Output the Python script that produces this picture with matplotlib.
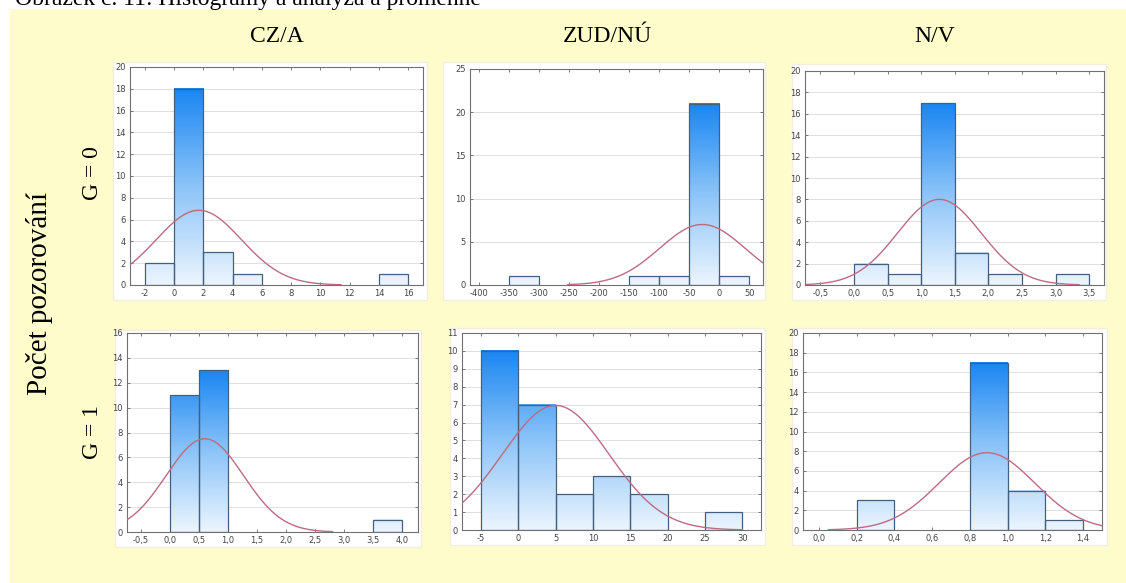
import matplotlib
matplotlib.use('Agg')
import matplotlib.pyplot as plt
from matplotlib.colors import LinearSegmentedColormap
from matplotlib.patches import Rectangle
from matplotlib.ticker import FuncFormatter
import numpy as np

plt.rcParams['axes.unicode_minus'] = False

######################################################
# Data
######################################################

col_titles = ['CZ/A', 'ZUD/NÚ', 'N/V']
row_titles = ['G = 0', 'G = 1']
y_title = 'Počet pozorování'
caption = 'Obrázek č. 11: Histogramy a analýza a proměnné'

# bin left edges, bin width and counts for each panel
p1_edges = [-2, 0, 2, 4, 6, 8, 10, 12, 14]
p1_counts = [2, 18, 3, 1, 0, 0, 0, 0, 1]
p2_edges = [-350, -300, -250, -200, -150, -100, -50, 0]
p2_counts = [1, 0, 0, 0, 1, 1, 21, 1]
p3_edges = [0.0, 0.5, 1.0, 1.5, 2.0, 2.5, 3.0]
p3_counts = [2, 1, 17, 3, 1, 0, 1]
p4_edges = [0.0, 0.5, 1.0, 1.5, 2.0, 2.5, 3.0, 3.5]
p4_counts = [11, 13, 0, 0, 0, 0, 0, 1]
p5_edges = [-5, 0, 5, 10, 15, 20, 25]
p5_counts = [10, 7, 2, 3, 2, 0, 1]
p6_edges = [0.2, 0.4, 0.6, 0.8, 1.0, 1.2]
p6_counts = [3, 0, 0, 17, 4, 1]

bin_widths = [2, 50, 0.5, 0.5, 5, 0.2]
# fitted normal curve: mean, sd, drawn range
curve_mean = [1.7, -28, 1.27, 0.6, 5.0, 0.89]
curve_sd = [2.91, 71.2, 0.623, 0.665, 7.17, 0.254]
curve_range = [(-3, 11.4), (-252, 73), (-0.73, 3.35), (-0.74, 2.8), (-7.5, 30), (0.05, 1.5)]

x_limits = [(-3, 17), (-415, 73), (-0.73, 3.72), (-0.74, 4.27), (-7.54, 32.5), (-0.085, 1.5)]
x_ticks = [np.arange(-2, 17, 2), np.arange(-400, 51, 50), np.arange(-0.5, 3.51, 0.5),
           np.arange(-0.5, 4.01, 0.5), np.arange(-5, 31, 5), np.arange(0.0, 1.41, 0.2)]
y_tops = [20, 25, 20, 16, 11, 20]
y_steps = [2, 5, 2, 2, 1, 2]
comma_fmt = [False, False, True, True, False, True]

edges_all = [p1_edges, p2_edges, p3_edges, p4_edges, p5_edges, p6_edges]
counts_all = [p1_counts, p2_counts, p3_counts, p4_counts, p5_counts, p6_counts]

######################################################
# Layout (pixels)
######################################################

W, H = 1126, 583
frames = [(130, 67, 423, 285), (470, 69, 763, 285), (805, 71, 1104, 285),
          (127, 333, 418, 532), (462, 333, 761, 530), (803, 333, 1102, 530)]
white_boxes = [(113, 62, 427, 300), (443, 62, 765, 300), (792, 64, 1106, 300),
               (115, 330, 421, 547), (450, 328, 765, 545), (792, 328, 1107, 545)]

YELLOW = '#FFFCCB'
BAR_CMAP = LinearSegmentedColormap.from_list('bars', ['#ECF5FE', '#8CC4F8', '#1A86F2'])

fig = plt.figure(figsize=(W / 100, H / 100), dpi=100)
fig.patch.set_facecolor('white')


def px_rect(x0, y0, x1, y1):
    return [x0 / W, 1 - y1 / H, (x1 - x0) / W, (y1 - y0) / H]


# yellow background and white panel cards (behind the axes)
fig.patches.append(Rectangle((10 / W, 0), 1 - 10 / W, 1 - 9 / H, transform=fig.transFigure,
                             facecolor=YELLOW, edgecolor='none', zorder=-3))
for (x0, y0, x1, y1) in white_boxes:
    fig.patches.append(Rectangle((x0 / W, 1 - y1 / H), (x1 - x0) / W, (y1 - y0) / H,
                                 transform=fig.transFigure, facecolor='white',
                                 edgecolor='#F2EFE0', lw=1.0, zorder=-2))


def comma(v, pos):
    return ('%.1f' % v).replace('.', ',')


for i in range(6):
    ax = fig.add_axes(px_rect(*frames[i]))
    ax.set_zorder(1)
    ax.set_facecolor('white')
    edges, counts, w = edges_all[i], counts_all[i], bin_widths[i]
    top = max(counts)
    for e, c in zip(edges, counts):
        if c == 0:
            continue
        grad = np.linspace(0, c, 200).reshape(-1, 1)
        ax.imshow(grad, extent=[e, e + w, 0, c], origin='lower', aspect='auto',
                  cmap=BAR_CMAP, vmin=0, vmax=top, zorder=2, interpolation='bilinear')
        ax.add_patch(Rectangle((e, 0), w, c, facecolor='none', edgecolor='#44607F',
                               lw=0.9, zorder=3))
    # normal curve
    n = sum(counts)
    xs = np.linspace(curve_range[i][0], curve_range[i][1], 300)
    ys = n * w / (curve_sd[i] * np.sqrt(2 * np.pi)) * np.exp(-0.5 * ((xs - curve_mean[i]) / curve_sd[i]) ** 2)
    ax.plot(xs, ys, color='#BF6A84', lw=1.0, zorder=4)

    ax.set_xlim(*x_limits[i])
    ax.set_ylim(0, y_tops[i])
    ax.set_xticks(x_ticks[i])
    ax.set_yticks(np.arange(0, y_tops[i] + 0.01, y_steps[i]))
    if comma_fmt[i]:
        ax.xaxis.set_major_formatter(FuncFormatter(comma))
    ax.yaxis.grid(True, color='#DADADA', lw=0.6, zorder=1)
    ax.set_axisbelow(True)
    ax.tick_params(direction='in', top=True, right=True, length=2.5, width=0.6,
                   color='#666666', labelsize=6, labelcolor='#444444', pad=3)
    for s in ax.spines.values():
        s.set_color('#707070')
        s.set_linewidth(0.8)

serif = ['Liberation Serif', 'DejaVu Serif']
for x, t in zip([277, 607, 935], col_titles):
    fig.text(x / W, 1 - 37 / H, t, ha='center', va='center', fontsize=17, family=serif)
for y, t in zip([173, 432], row_titles):
    fig.text(92 / W, 1 - y / H, t, ha='center', va='center', rotation=90, fontsize=17, family=serif)
fig.text(40 / W, 1 - 293 / H, y_title, ha='center', va='center', rotation=90, fontsize=21, family=serif)
fig.text(15 / W, 1 - 5 / H, caption, ha='left', va='baseline', fontsize=17, family=serif)

fig.savefig('out.png', dpi=100, facecolor=fig.get_facecolor())
